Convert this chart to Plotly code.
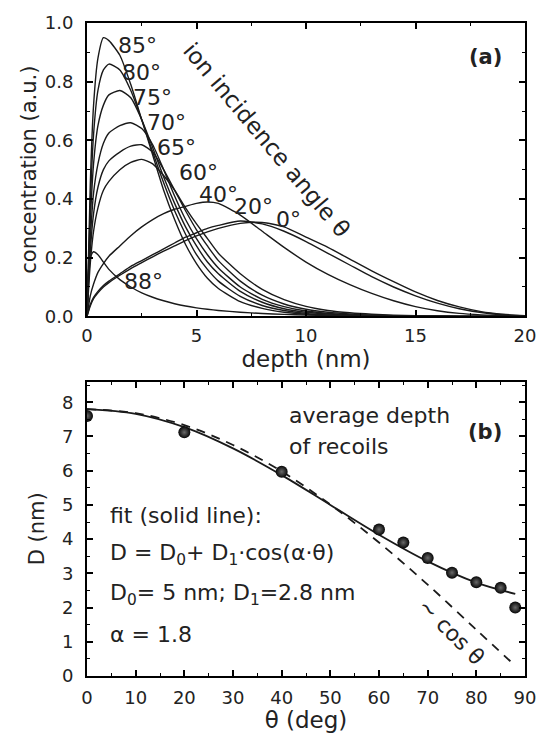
import plotly.graph_objects as go

# ---------------- data: panel (a) ----------------
depth = [0, 0.15, 0.3, 0.5, 0.75, 1, 1.5, 2, 2.5, 3, 3.5, 4, 4.5, 5, 5.5, 6, 7, 8, 9, 10,
         11, 12, 13, 14, 15, 16, 17, 18, 19, 20]

c0 = [0, 0.035, 0.06, 0.08, 0.1, 0.115, 0.14, 0.163, 0.183, 0.203, 0.222, 0.24, 0.258, 0.274,
      0.288, 0.3, 0.317, 0.32, 0.305, 0.27, 0.235, 0.195, 0.155, 0.118, 0.083, 0.054, 0.032,
      0.016, 0.007, 0.002]
c20 = [0, 0.04, 0.065, 0.085, 0.105, 0.12, 0.145, 0.17, 0.19, 0.21, 0.23, 0.25, 0.27, 0.285,
       0.3, 0.31, 0.325, 0.315, 0.29, 0.255, 0.215, 0.175, 0.135, 0.1, 0.07, 0.045, 0.026, 0.013,
       0.005, 0.002]
c40 = [0, 0.07, 0.11, 0.15, 0.18, 0.205, 0.24, 0.275, 0.305, 0.33, 0.35, 0.365, 0.375, 0.385,
       0.39, 0.385, 0.345, 0.29, 0.235, 0.185, 0.143, 0.108, 0.078, 0.053, 0.033, 0.019, 0.01,
       0.005, 0.002, 0.001]
c60 = [0, 0.18, 0.29, 0.37, 0.43, 0.46, 0.5, 0.525, 0.535, 0.52, 0.48, 0.43, 0.37, 0.315, 0.265,
       0.215, 0.145, 0.092, 0.057, 0.034, 0.02, 0.012, 0.007, 0.004, 0.002, 0.001, 0, 0, 0, 0]
c65 = [0, 0.22, 0.35, 0.44, 0.5, 0.53, 0.56, 0.58, 0.585, 0.56, 0.5, 0.43, 0.36, 0.295, 0.24,
       0.19, 0.12, 0.072, 0.042, 0.024, 0.014, 0.008, 0.004, 0.002, 0.001, 0, 0, 0, 0, 0]
c70 = [0, 0.26, 0.42, 0.52, 0.59, 0.625, 0.65, 0.66, 0.64, 0.585, 0.5, 0.41, 0.33, 0.265, 0.21,
       0.165, 0.1, 0.058, 0.033, 0.018, 0.01, 0.005, 0.003, 0.001, 0.001, 0, 0, 0, 0, 0]
c75 = [0, 0.32, 0.52, 0.65, 0.72, 0.755, 0.77, 0.745, 0.67, 0.575, 0.475, 0.385, 0.305, 0.24,
       0.185, 0.145, 0.085, 0.048, 0.026, 0.014, 0.008, 0.004, 0.002, 0.001, 0, 0, 0, 0, 0, 0]
c80 = [0, 0.38, 0.62, 0.77, 0.84, 0.86, 0.84, 0.77, 0.67, 0.56, 0.455, 0.36, 0.28, 0.21, 0.16,
       0.12, 0.068, 0.037, 0.02, 0.01, 0.005, 0.003, 0.001, 0.001, 0, 0, 0, 0, 0, 0]
c85 = [0, 0.45, 0.72, 0.88, 0.95, 0.94, 0.89, 0.79, 0.67, 0.55, 0.43, 0.33, 0.245, 0.18, 0.13,
       0.095, 0.05, 0.027, 0.014, 0.007, 0.004, 0.002, 0.001, 0, 0, 0, 0, 0, 0, 0]
c88 = [0.1, 0.2, 0.22, 0.21, 0.185, 0.16, 0.125, 0.1, 0.08, 0.065, 0.053, 0.043, 0.035, 0.029,
       0.024, 0.02, 0.014, 0.0095, 0.0065, 0.0045, 0.003, 0.002, 0.0013, 0.0008, 0.0005, 0.0003,
       0, 0, 0, 0]

profiles = [c0, c20, c40, c60, c65, c70, c75, c80, c85, c88]

angle_labels = ["85°", "80°", "75°", "70°", "65°", "60°", "40°", "20°", "0°", "88°"]
label_x = [2.3, 2.5, 3.0, 3.65, 4.1, 5.1, 6.0, 7.6, 9.2, 2.6]
label_y = [0.925, 0.83, 0.745, 0.66, 0.575, 0.49, 0.415, 0.375, 0.33, 0.118]

# ---------------- data: panel (b) ----------------
theta_pts = [0, 20, 40, 60, 65, 70, 75, 80, 85, 88]
D_pts = [7.6, 7.12, 5.97, 4.28, 3.9, 3.45, 3.02, 2.74, 2.58, 2.0]

theta_fit = [0, 10, 20, 30, 40, 50, 60, 70, 80, 88]
D_fit = [7.8, 7.66, 7.27, 6.65, 5.87, 5.0, 4.13, 3.35, 2.73, 2.4]
D_cos = [7.8, 7.68, 7.33, 6.75, 5.98, 5.01, 3.9, 2.67, 1.35, 0.3]

FONT = "DejaVu Sans, Liberation Sans, Arial, sans-serif"
LINE = "#1a1a1a"
TXT = "#222"

fig = go.Figure()

for prof in profiles:
    fig.add_trace(go.Scatter(x=depth, y=prof, mode="lines",
                             line=dict(color=LINE, width=1.4, shape="spline", smoothing=0.6),
                             xaxis="x", yaxis="y", showlegend=False, hoverinfo="skip"))

fig.add_trace(go.Scatter(x=theta_fit, y=D_cos, mode="lines",
                         line=dict(color=LINE, width=1.8, dash="9px,7px", shape="spline"),
                         xaxis="x2", yaxis="y2", showlegend=False))
fig.add_trace(go.Scatter(x=theta_fit, y=D_fit, mode="lines",
                         line=dict(color=LINE, width=1.8, shape="spline"),
                         xaxis="x2", yaxis="y2", showlegend=False))
fig.add_trace(go.Scatter(x=theta_pts, y=D_pts, mode="markers",
                         marker=dict(size=12, color="#050505",
                                     gradient=dict(type="radial", color="#6a6a6a"),
                                     line=dict(width=0)),
                         xaxis="x2", yaxis="y2", showlegend=False))

ann = []
for t, x, y in zip(angle_labels, label_x, label_y):
    ann.append(dict(x=x, y=y, xref="x", yref="y", text=t, showarrow=False,
                    font=dict(size=22, color=TXT)))

ann.append(dict(x=8.2, y=0.6, xref="x", yref="y", text="ion incidence angle θ",
                showarrow=False, textangle=50, font=dict(size=23, color=TXT)))
ann.append(dict(x=18.2, y=0.885, xref="x", yref="y", text="<b>(a)</b>", showarrow=False,
                font=dict(size=21, color=TXT)))

ann.append(dict(x=41.0, y=7.62, xref="x2", yref="y2", text="average depth",
                showarrow=False, xanchor="left", font=dict(size=22, color=TXT)))
ann.append(dict(x=41.0, y=6.70, xref="x2", yref="y2", text="of recoils",
                showarrow=False, xanchor="left", font=dict(size=22, color=TXT)))
ann.append(dict(x=81.7, y=7.13, xref="x2", yref="y2", text="<b>(b)</b>", showarrow=False,
                font=dict(size=21, color=TXT)))

left_lines = ["fit (solid line):",
              "D = D<sub>0</sub>+ D<sub>1</sub>·cos(α·θ)",
              "D<sub>0</sub>= 5 nm; D<sub>1</sub>=2.8 nm",
              "α = 1.8"]
left_y = [4.68, 3.55, 2.38, 1.2]
for t, y in zip(left_lines, left_y):
    ann.append(dict(x=4.25, y=y, xref="x2", yref="y2", text=t, showarrow=False,
                    xanchor="left", font=dict(size=22, color=TXT)))

ann.append(dict(x=74.8, y=1.3, xref="x2", yref="y2", text="~ cos θ", showarrow=False,
                textangle=45, font=dict(size=22, color=TXT)))

axis_common = dict(showline=True, linecolor="black", linewidth=1.8, mirror="allticks",
                   ticks="inside", ticklen=6, tickwidth=1.5, tickcolor="black",
                   showgrid=False, zeroline=False,
                   tickfont=dict(size=18, family=FONT, color=TXT))

fig.update_layout(
    width=548, height=741,
    margin=dict(l=87, r=15, t=17, b=65),
    paper_bgcolor="white", plot_bgcolor="white",
    font=dict(family=FONT, color=TXT),
    annotations=ann,
    xaxis=dict(domain=[0, 1], range=[0, 20], tickvals=[0, 5, 10, 15, 20],
               anchor="y", ticklabelstandoff=2,
               minor=dict(ticks="inside", ticklen=3, tickwidth=1.2, tickcolor="black", dtick=2.5),
               title=dict(text="depth (nm)", font=dict(size=23), standoff=0),
               **axis_common),
    yaxis=dict(domain=[0.5508, 1], range=[0, 1.0], tickvals=[0, 0.2, 0.4, 0.6, 0.8, 1.0],
               tickformat=".1f", anchor="x", ticklabelstandoff=8,
               minor=dict(ticks="inside", ticklen=3, tickwidth=1.2, tickcolor="black", dtick=0.1),
               title=dict(text="concentration (a.u.)", font=dict(size=21), standoff=3),
               **axis_common),
    xaxis2=dict(domain=[0, 1], range=[0, 90], tickvals=list(range(0, 91, 10)),
                anchor="y2", ticklabelstandoff=4,
                minor=dict(ticks="inside", ticklen=3, tickwidth=1.2, tickcolor="black", dtick=5),
                title=dict(text="θ (deg)", font=dict(size=23), standoff=4),
                **axis_common),
    yaxis2=dict(domain=[0, 0.4507], range=[0, 8.6], tickvals=list(range(0, 9)),
                anchor="x2", ticklabelstandoff=8,
                minor=dict(ticks="inside", ticklen=3, tickwidth=1.2, tickcolor="black", dtick=0.5),
                title=dict(text="D (nm)", font=dict(size=21), standoff=12),
                **axis_common),
)

fig.write_html("out.html", config={"displayModeBar": False},
               post_script="document.body.style.margin='0';")
